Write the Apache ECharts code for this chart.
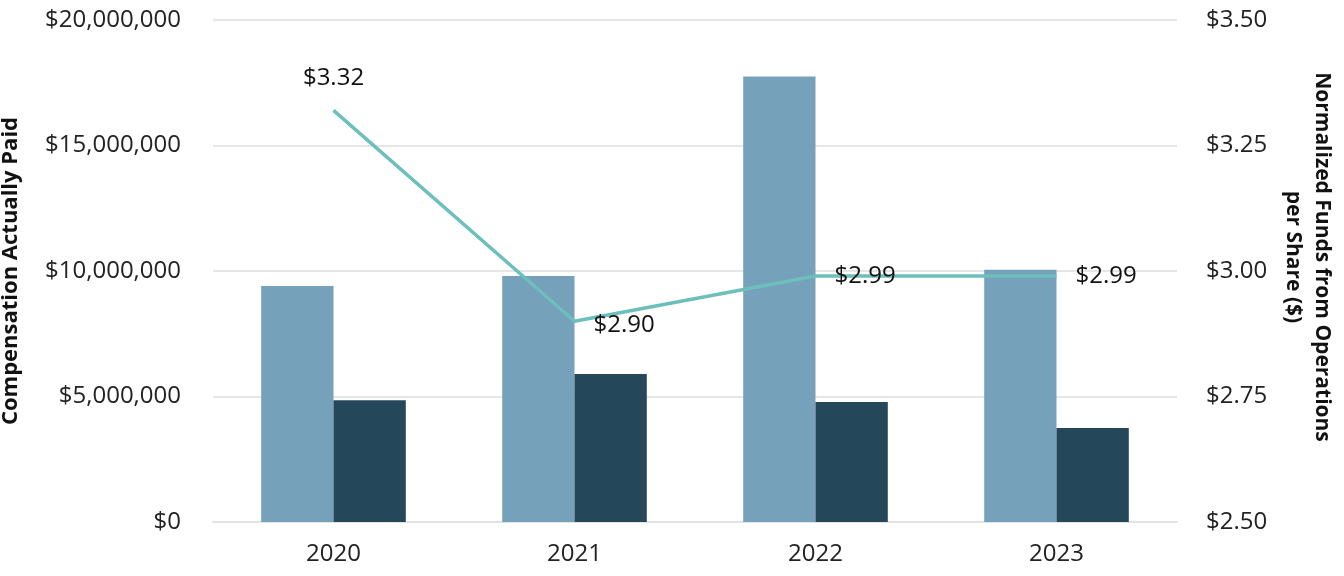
<!DOCTYPE html>
<html><head><meta charset="utf-8">
<script src="https://cdn.jsdelivr.net/npm/echarts@6/dist/echarts.min.js"></script>
<style>html,body{margin:0;padding:0;background:#fff}#c{width:1344px;height:576px}</style>
</head><body><div id="c"></div>
<script>
const years = ['2020','2021','2022','2023'];
const capValues = [9400000, 9800000, 17750000, 10050000];
const tsrValues = [4850000, 5900000, 4780000, 3750000];
const ffoValues = [3.32, 2.90, 2.99, 2.99];
const ffoLabels = ['$3.32','$2.90','$2.99','$2.99'];
const labelPos = ['top','right','right','right'];

const font = 'Open Sans';
const chart = echarts.init(document.getElementById('c'));
const money = v => '$' + v.toLocaleString('en-US');
const nameStyle = {fontSize:22,fontWeight:'bold',color:'#111',lineHeight:29,fontFamily:font};
const rightNameStyle = Object.assign({}, nameStyle, {fontSize:21});
chart.setOption({
  animation:false,
  textStyle:{fontFamily:font},
  grid:{left:213,right:167,top:20,bottom:54,containLabel:false,outerBoundsMode:'none'},
  xAxis:{type:'category',data:years,
    axisLine:{lineStyle:{color:'#e3e3e3',width:2}},axisTick:{show:false},
    axisLabel:{color:'#222',fontSize:24,margin:20,fontFamily:font}},
  yAxis:[{type:'value',min:0,max:20000000,interval:5000000,
    name:'Compensation Actually Paid',nameLocation:'middle',nameRotate:90,nameGap:188,
    nameTextStyle:nameStyle,
    axisLabel:{formatter:money,color:'#222',fontSize:24,margin:32,fontFamily:font},
    splitLine:{lineStyle:{color:'#e6e6e6',width:2}},axisLine:{show:false},axisTick:{show:false}},
   {type:'value',min:2.5,max:3.5,interval:0.25,position:'right',
    name:'{a|Normalized Funds from Operations}\n{a|per Share ($)}',nameLocation:'middle',nameRotate:-90,nameGap:98,
    nameTextStyle:Object.assign({}, rightNameStyle, {rich:{a:Object.assign({}, rightNameStyle, {padding:[0,28,0,0]})}}),
    axisLabel:{formatter:v=>'$'+v.toFixed(2),color:'#222',fontSize:24,margin:29,fontFamily:font},
    splitLine:{show:false},axisLine:{show:false},axisTick:{show:false}}],
  series:[
    {type:'bar',data:capValues,barGap:'0%',barCategoryGap:'40%',itemStyle:{color:'#75A1BB'}},
    {type:'bar',data:tsrValues,itemStyle:{color:'#244759'}},
    {type:'line',yAxisIndex:1,symbol:'circle',symbolSize:0.1,showSymbol:true,
     itemStyle:{color:'#6DBFBB'},lineStyle:{color:'#6DBFBB',width:3.5},
     data:ffoValues.map((v,i)=>({value:v,label:{show:true,position:labelPos[i],distance:labelPos[i]==='top'?20:19,
       offset:i===1?[0,4]:[0,0],formatter:ffoLabels[i],fontSize:24,color:'#111',fontFamily:font}}))}
  ]
});
</script></body></html>
